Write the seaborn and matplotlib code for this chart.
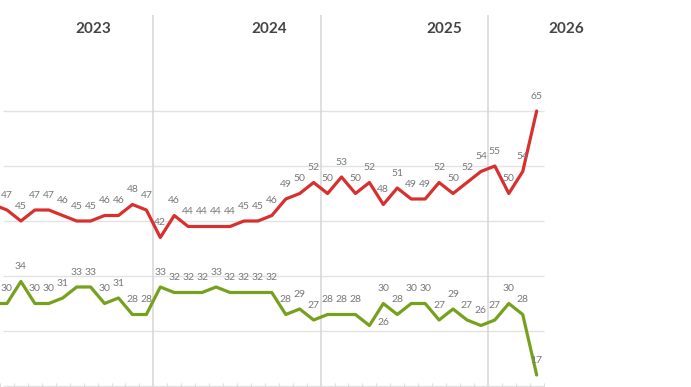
import numpy as np
import pandas as pd
import seaborn as sns
import matplotlib.pyplot as plt

# monthly values, Jan 2023 .. Apr 2026 (index 0 = Jan 2023)
red_values = [48, 47, 45, 47, 47, 46, 45, 45, 46, 46, 48, 47,   # 2023
              42, 46, 44, 44, 44, 44, 45, 45, 46, 49, 50, 52,   # 2024
              50, 53, 50, 52, 48, 51, 49, 49, 52, 50, 52, 54,   # 2025
              55, 50, 54, 65]                                   # 2026
green_values = [30, 30, 34, 30, 30, 31, 33, 33, 30, 31, 28, 28,
                33, 32, 32, 32, 33, 32, 32, 32, 32, 28, 29, 27,
                28, 28, 28, 26, 30, 28, 30, 30, 27, 29, 27, 26,
                27, 30, 28, 17]
years = ['2023', '2024', '2025', '2026']
year_label_pos = [7.2, 19.8, 32.4, 41.1]
grid_levels = [15, 25, 35, 45, 55, 65]

months = np.arange(len(red_values))
df = pd.concat([
    pd.DataFrame({'month': months, 'value': red_values, 'series': 'Red'}),
    pd.DataFrame({'month': months, 'value': green_values, 'series': 'Green'}),
])
colors = {'Red': '#d8302f', 'Green': '#76a11e'}

sns.set_style('white')
plt.rcParams['font.family'] = ['Lato', 'DejaVu Sans']

fig = plt.figure(figsize=(6.91, 3.87), dpi=100)
ax = fig.add_axes([0, 0, 1, 1])

x_left = 10 / 14
x_right = x_left + 691 / 14
ax.set_xlim(x_left, x_right)
ax.set_ylim(15 - 1 / 5.5, 15 + 386 / 5.5)

last_edge = len(red_values) - 0.5
ax.hlines(grid_levels, x_left, last_edge, color='#e2e2e2', lw=1, zorder=0)
year_edges = [11.5, 23.5, 35.5]
ax.vlines(year_edges, 15, 82.5, color='#d6d6d6', lw=1.1, zorder=0)

sns.lineplot(data=df, x='month', y='value', hue='series', palette=colors,
             linewidth=2.3, legend=False, ax=ax, zorder=3)

# point labels
special = {('Green', 27): (10, 2.5)}
for name, vals in [('Red', red_values), ('Green', green_values)]:
    for i, v in enumerate(vals):
        dx, dy = special.get((name, i), (0, 10.5))
        ax.annotate(str(v), (i, v), xytext=(dx, dy), textcoords='offset points',
                    ha='center', va='center', fontsize=7.5, color='#777777', zorder=4)

for lab, pos in zip(years, year_label_pos):
    ax.text(pos, 79.9, lab, ha='center', va='center', fontsize=11,
            fontweight='bold', color='#444444')

ax.set_xticks(np.arange(0.5, last_edge + 0.1, 1))
ax.tick_params(axis='x', direction='in', length=3, color='#dddddd',
               labelbottom=False, bottom=True)
ax.set_yticks([])
ax.set_xlabel('')
ax.set_ylabel('')
for s in ax.spines.values():
    s.set_visible(False)

fig.savefig('out.png', dpi=100)
